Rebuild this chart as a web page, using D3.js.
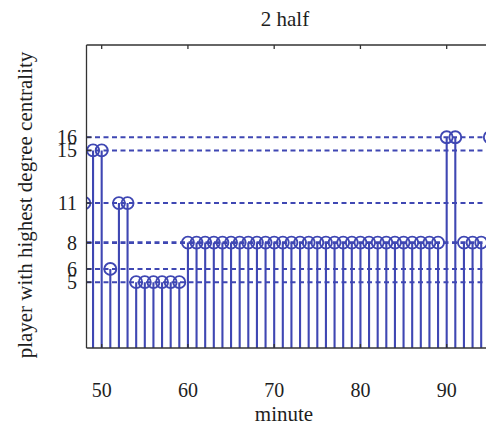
<!DOCTYPE html>
<html>
<head>
<meta charset="utf-8">
<script src="https://cdn.jsdelivr.net/npm/d3@7"></script>
<style>
  html, body { margin: 0; padding: 0; background: #fff; }
  svg { display: block; font-family: "Liberation Serif", "DejaVu Serif", serif; }
</style>
</head>
<body>
<svg id="chart" width="486" height="432"></svg>
<script>
const W = 486, H = 432;

// minutes of the 2nd half and the player with highest degree centrality
const minutes = [48, 49, 50, 51, 52, 53, 54, 55, 56, 57, 58, 59,
  60, 61, 62, 63, 64, 65, 66, 67, 68, 69, 70, 71, 72, 73, 74, 75, 76, 77, 78, 79,
  80, 81, 82, 83, 84, 85, 86, 87, 88, 89, 90, 91, 92, 93, 94, 95];
const players = [11, 15, 15, 6, 11, 11, 5, 5, 5, 5, 5, 5,
  8, 8, 8, 8, 8, 8, 8, 8, 8, 8, 8, 8, 8, 8, 8, 8, 8, 8, 8, 8,
  8, 8, 8, 8, 8, 8, 8, 8, 8, 8, 16, 16, 8, 8, 8, 16];
const yTicks = [5, 6, 8, 11, 15, 16];
const xTicks = [50, 60, 70, 80, 90];

const BLUE = '#3f47b3';
const AXIS = '#333';
const INK = '#1e1e1e';

// plot box (right edge runs past the picture, as in the reference)
const pL = 86.5, pR = 520, pT = 45, pB = 348;

const x = d3.scaleLinear().domain([48.24, 98.5]).range([pL, pR]);
const y = d3.scaleLinear().domain([0, 23]).range([pB, pT]);

const svg = d3.select('#chart');

svg.append('defs').append('clipPath').attr('id', 'plot-clip')
  .append('rect')
  .attr('x', pL).attr('y', pT)
  .attr('width', pR - pL).attr('height', pB - pT);

const plot = svg.append('g').attr('clip-path', 'url(#plot-clip)');

// dashed reference lines at each player level
plot.selectAll('line.ref')
  .data(yTicks)
  .join('line')
  .attr('class', 'ref')
  .attr('x1', pL).attr('x2', pR)
  .attr('y1', d => y(d)).attr('y2', d => y(d))
  .attr('stroke', BLUE)
  .attr('stroke-width', d => d === 8 ? 2.8 : 2)
  .attr('stroke-dasharray', '5,3.5');

const pts = minutes.map((m, i) => ({ m, v: players[i] }));

// stems
plot.selectAll('line.stem')
  .data(pts)
  .join('line')
  .attr('class', 'stem')
  .attr('x1', d => x(d.m)).attr('x2', d => x(d.m))
  .attr('y1', y(0)).attr('y2', d => y(d.v))
  .attr('stroke', BLUE)
  .attr('stroke-width', 2.1);

// open circle markers
plot.selectAll('circle.mark')
  .data(pts)
  .join('circle')
  .attr('class', 'mark')
  .attr('cx', d => x(d.m)).attr('cy', d => y(d.v))
  .attr('r', 6)
  .attr('fill', 'none')
  .attr('stroke', BLUE)
  .attr('stroke-width', 1.9);

// axes: left, bottom, top lines (right side is cropped)
const ax = svg.append('g').attr('stroke', AXIS).attr('stroke-width', 1.3);
ax.append('line').attr('x1', pL).attr('x2', pL).attr('y1', pT).attr('y2', pB);
ax.append('line').attr('x1', pL).attr('x2', W + 5).attr('y1', pB).attr('y2', pB);
ax.append('line').attr('x1', pL).attr('x2', W + 5).attr('y1', pT).attr('y2', pT);

// inward ticks
ax.selectAll('line.yt')
  .data(yTicks)
  .join('line')
  .attr('class', 'yt')
  .attr('x1', pL).attr('x2', pL + 5)
  .attr('y1', d => y(d)).attr('y2', d => y(d));
ax.selectAll('line.xb')
  .data(xTicks)
  .join('line')
  .attr('class', 'xb')
  .attr('x1', d => x(d)).attr('x2', d => x(d))
  .attr('y1', pB).attr('y2', pB - 4);
ax.selectAll('line.xt')
  .data(xTicks)
  .join('line')
  .attr('class', 'xt')
  .attr('x1', d => x(d)).attr('x2', d => x(d))
  .attr('y1', pT).attr('y2', pT + 4);

// tick labels
svg.selectAll('text.ytl')
  .data(yTicks)
  .join('text')
  .attr('class', 'ytl')
  .attr('x', 77)
  .attr('y', d => y(d))
  .attr('dy', '0.35em')
  .attr('text-anchor', 'end')
  .attr('font-size', 20)
  .attr('fill', INK)
  .text(d => d);

svg.selectAll('text.xtl')
  .data(xTicks)
  .join('text')
  .attr('class', 'xtl')
  .attr('x', d => x(d))
  .attr('y', 397)
  .attr('text-anchor', 'middle')
  .attr('font-size', 20)
  .attr('fill', INK)
  .text(d => d);

// title and axis labels
svg.append('text')
  .attr('x', 285).attr('y', 26)
  .attr('text-anchor', 'middle')
  .attr('font-size', 21)
  .attr('fill', INK)
  .text('2 half');

svg.append('text')
  .attr('x', 284).attr('y', 421)
  .attr('text-anchor', 'middle')
  .attr('font-size', 21)
  .attr('fill', INK)
  .text('minute');

svg.append('text')
  .attr('transform', 'translate(32,205) rotate(-90)')
  .attr('text-anchor', 'middle')
  .attr('font-size', 21)
  .attr('fill', INK)
  .text('player with highest degree centrality');
</script>
</body>
</html>
